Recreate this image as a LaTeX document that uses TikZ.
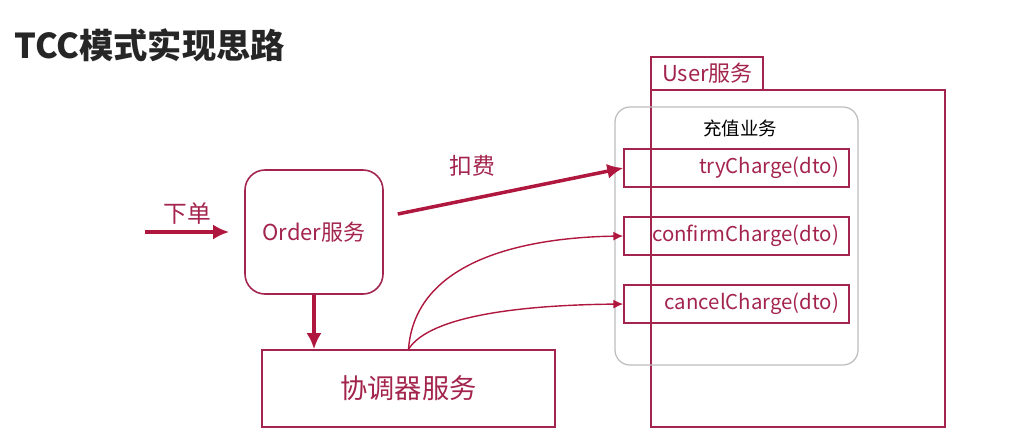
\documentclass[tikz,border=0pt]{standalone}
\usepackage{fontspec}
\setmainfont{Noto Sans CJK SC}
\usetikzlibrary{arrows.meta,positioning}
\definecolor{crimson}{HTML}{A3244D}
\definecolor{arrowred}{HTML}{B0173F}
\definecolor{softgray}{HTML}{BDBDBD}

\begin{document}
\begin{tikzpicture}[>=Latex,node distance=0.55cm]
  \tikzset{svcbox/.style={draw=crimson,line width=0.9pt,text=crimson,align=center},
    methodbox/.style={draw=crimson,line width=0.8pt,text=crimson,font=\fontsize{11.6}{13}\selectfont,minimum width=4.5cm,minimum height=0.76cm,inner xsep=0.2cm,text width=4.1cm,align=right},
    flow/.style={arrowred,line width=2pt,-{Latex[length=3.2mm,width=3mm]}},
    call/.style={arrowred,line width=0.8pt,-{Latex[length=2mm,width=1.8mm]}}}
  \useasboundingbox (0,0) rectangle (20.36,-8.68);
  \node[anchor=west,font=\bfseries\fontsize{19.5}{22}\selectfont,text=black!85] (title) at (0.16,-0.9) {TCC模式实现思路};
  % user service frame
  \draw[crimson,line width=0.9pt] (13.02,-1.14) rectangle (15.26,-1.8);
  \node[anchor=west,text=crimson,font=\fontsize{12.5}{14}\selectfont] (user) at (13.12,-1.47) {User服务};
  \draw[crimson,line width=0.9pt] (13.02,-1.8) rectangle (18.9,-8.54);
  \draw[softgray,line width=0.7pt,rounded corners=0.3cm] (12.3,-2.14) rectangle (17.16,-7.3);
  \node[font=\fontsize{10.5}{12}\selectfont] (biz) at (14.8,-2.56) {充值业务};
  \node[methodbox] (try) at (14.73,-3.36) {tryCharge(dto)};
  \node[methodbox] (confirm) at (14.73,-4.72) {confirmCharge(dto)};
  \node[methodbox] (cancel) at (14.73,-6.08) {cancelCharge(dto)};
  % order and coordinator
  \node[svcbox,rounded corners=0.4cm,minimum width=2.76cm,minimum height=2.48cm,font=\fontsize{12.5}{14}\selectfont] (order) at (6.28,-4.64) {Order服务};
  \node[svcbox,minimum width=5.86cm,minimum height=1.54cm,font=\fontsize{15.5}{18}\selectfont] (coord) at (8.17,-7.77) {协调器服务};
  \coordinate (start) at (2.9,-4.64);
  \draw[flow,shorten >=0.3cm] (start) -- (order.west);
  \node[text=crimson,font=\fontsize{13.5}{16}\selectfont,above=0.02cm of start,xshift=0.85cm] (place) {下单};
  \draw[flow] (order.south) -- (order.south |- coord.north);
  \draw[flow] ([xshift=0.28cm,yshift=0.36cm]order.east) -- (try.west);
  \node[text=crimson,font=\fontsize{13}{15}\selectfont] (deduct) at (9.45,-3.32) {扣费};
  \draw[call] (coord.north) .. controls (8.3,-5.2) and (10.5,-4.75) .. (confirm.west);
  \draw[call] (coord.north) .. controls (8.6,-6.3) and (10.5,-6.1) .. (cancel.west);
\end{tikzpicture}
\end{document}
